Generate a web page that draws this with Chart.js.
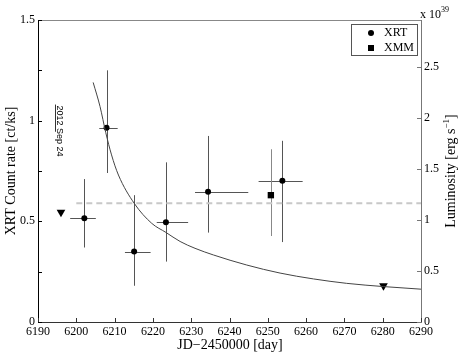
<!DOCTYPE html>
<html>
<head>
<meta charset="utf-8">
<script src="https://cdn.jsdelivr.net/npm/chart.js@4"></script>
<style>
  html, body { margin: 0; padding: 0; background: #fff; }
</style>
</head>
<body>
<canvas id="lc" width="463" height="354"></canvas>
<script>
(() => {
    // XRT points (day, rate, error ranges)
    const xrtDay = [6202.1, 6207.9, 6215.1, 6223.4, 6234.4, 6253.8];
    const xrtRate = [0.515, 0.965, 0.35, 0.495, 0.647, 0.702];
    const xrtDayLo = [6198.4, 6206.0, 6212.7, 6221.0, 6231.0, 6247.6];
    const xrtDayHi = [6205.1, 6210.8, 6219.4, 6229.2, 6244.9, 6259.1];
    const xrtRateLo = [0.37, 0.74, 0.18, 0.30, 0.444, 0.397];
    const xrtRateHi = [0.71, 1.25, 0.63, 0.793, 0.924, 0.90];

    // XMM point
    const xmmDay = [6250.8];
    const xmmRate = [0.63];
    const xmmRateLo = [0.427];
    const xmmRateHi = [0.858];

    // upper limits
    const limitDay = [6196.0, 6280.2];
    const limitRate = [0.545, 0.18];

    // decay curve
    const fitDay = [6204.4, 6206.2, 6207.7, 6209.2, 6211.0, 6215.1, 6219.7, 6223.4, 6227.1, 6231.0, 6235.8, 6244.5, 6253.2, 6261.9, 6270.6, 6280.2, 6290.0];
    const fitRate = [1.19, 1.07, 0.94, 0.83, 0.73, 0.59, 0.49, 0.445, 0.40, 0.366, 0.333, 0.283, 0.243, 0.214, 0.192, 0.176, 0.163];

    // mean level (dashed)
    const meanDay = [6200, 6290];
    const meanRate = [0.59, 0.59];

    // date marker
    const markDay = 6194.5;
    const markRate = [0.945, 1.08];
    const markText = '2012 Sep 24';

    // ticks
    const xTicks = [6190, 6200, 6210, 6220, 6230, 6240, 6250, 6260, 6270, 6280, 6290];
    const rateTicks = [0, 0.5, 1, 1.5];
    const rateMinor = [0.25, 0.75, 1.25];
    const lumTicks = [0, 0.5, 1, 1.5, 2, 2.5];
    const lumMax = 2.96;

    const serif = 'Liberation Serif';
    const pts = (xs, ys) => xs.map((v, i) => ({ x: v, y: ys[i] }));
    const crisp = v => Math.round(v) + 0.5;

    // error bars under the markers
    const errorBars = {
        id: 'errorBars',
        beforeDatasetsDraw(chart) {
            const { ctx, scales: { x, y } } = chart;
            ctx.save();
            ctx.lineWidth = 1;
            ctx.strokeStyle = '#555';
            xrtDay.forEach((d, i) => {
                const px = crisp(x.getPixelForValue(d));
                const py = crisp(y.getPixelForValue(xrtRate[i]));
                ctx.beginPath();
                ctx.moveTo(px, y.getPixelForValue(xrtRateLo[i]));
                ctx.lineTo(px, y.getPixelForValue(xrtRateHi[i]));
                ctx.moveTo(x.getPixelForValue(xrtDayLo[i]), py);
                ctx.lineTo(x.getPixelForValue(xrtDayHi[i]), py);
                ctx.stroke();
            });
            ctx.strokeStyle = '#888';
            xmmDay.forEach((d, i) => {
                const px = crisp(x.getPixelForValue(d));
                ctx.beginPath();
                ctx.moveTo(px, y.getPixelForValue(xmmRateLo[i]));
                ctx.lineTo(px, y.getPixelForValue(xmmRateHi[i]));
                ctx.stroke();
            });
            ctx.restore();
        }
    };

    // inward ticks, frame, legend and labels
    const decorations = {
        id: 'decorations',
        afterDraw(chart) {
            const { ctx, chartArea: a, scales: { x, y, y2 } } = chart;
            ctx.save();
            ctx.lineWidth = 1;

            // top frame line
            ctx.strokeStyle = '#888';
            ctx.beginPath();
            ctx.moveTo(a.left, crisp(a.top));
            ctx.lineTo(a.right, crisp(a.top));
            ctx.stroke();

            // ticks
            ctx.strokeStyle = '#333';
            ctx.beginPath();
            xTicks.forEach(v => {
                const px = crisp(x.getPixelForValue(v));
                ctx.moveTo(px, a.bottom);
                ctx.lineTo(px, a.bottom - 4);
            });
            ctx.stroke();
            ctx.strokeStyle = '#000';
            ctx.beginPath();
            rateTicks.concat(rateMinor).forEach(v => {
                const py = crisp(y.getPixelForValue(v));
                ctx.moveTo(a.left, py);
                ctx.lineTo(a.left + 4, py);
            });
            ctx.stroke();
            ctx.strokeStyle = '#777';
            ctx.beginPath();
            lumTicks.forEach(v => {
                const py = crisp(y2.getPixelForValue(v));
                ctx.moveTo(a.right, py);
                ctx.lineTo(a.right - 4, py);
            });
            ctx.stroke();

            // date marker
            const mx = crisp(x.getPixelForValue(markDay));
            ctx.strokeStyle = '#333';
            ctx.beginPath();
            ctx.moveTo(mx, y.getPixelForValue(markRate[1]));
            ctx.lineTo(mx, y.getPixelForValue(markRate[0]));
            ctx.stroke();
            ctx.save();
            ctx.translate(mx + 1, y.getPixelForValue(markRate[1]) + 1);
            ctx.rotate(Math.PI / 2);
            ctx.fillStyle = '#000';
            ctx.font = '9px "Liberation Sans"';
            ctx.textAlign = 'left';
            ctx.textBaseline = 'alphabetic';
            ctx.fillText(markText, 0, 0);
            ctx.restore();

            // legend
            const lx = 351, ly = 24, lw = 66, lh = 31;
            ctx.strokeStyle = '#555';
            ctx.strokeRect(lx + 0.5, ly + 0.5, lw, lh);
            ctx.fillStyle = '#000';
            ctx.beginPath();
            ctx.arc(371, 33, 3, 0, Math.PI * 2);
            ctx.fill();
            ctx.fillRect(368, 45, 6, 6);
            ctx.font = '12px "' + serif + '"';
            ctx.textAlign = 'left';
            ctx.textBaseline = 'middle';
            ctx.fillText('XRT', 384, 33);
            ctx.fillText('XMM', 384, 48);

            // axis titles
            ctx.font = '14px "' + serif + '"';
            ctx.textBaseline = 'alphabetic';
            ctx.textAlign = 'center';
            ctx.fillText('JD\u22122450000 [day]', 230, 349);

            ctx.save();
            ctx.translate(15, 171);
            ctx.rotate(-Math.PI / 2);
            ctx.fillText('XRT Count rate [ct/ks]', 0, 0);
            ctx.restore();

            // right title with superscript
            ctx.save();
            ctx.translate(455, 171);
            ctx.rotate(-Math.PI / 2);
            const main = 'Luminosity [erg s', sup = '\u22121', end = ']';
            ctx.font = '14px "' + serif + '"';
            const w1 = ctx.measureText(main).width;
            const w3 = ctx.measureText(end).width;
            ctx.font = '9px "' + serif + '"';
            const w2 = ctx.measureText(sup).width;
            let sx = -(w1 + w2 + w3) / 2;
            ctx.textAlign = 'left';
            ctx.font = '14px "' + serif + '"';
            ctx.fillText(main, sx, 0);
            ctx.font = '9px "' + serif + '"';
            ctx.fillText(sup, sx + w1, -6);
            ctx.font = '14px "' + serif + '"';
            ctx.fillText(end, sx + w1 + w2, 0);
            ctx.restore();

            // exponent
            ctx.textAlign = 'left';
            ctx.font = '12px "' + serif + '"';
            ctx.fillText('x 10', 420, 18);
            ctx.font = '8px "' + serif + '"';
            ctx.fillText('39', 441, 12);

            ctx.restore();
        }
    };

    const tickFont = { family: serif, size: 12 };

    new Chart(document.getElementById('lc'), {
        type: 'scatter',
        data: {
            datasets: [
                {
                    label: 'mean',
                    data: pts(meanDay, meanRate),
                    showLine: true,
                    borderColor: '#c8c8c8',
                    borderWidth: 2,
                    borderDash: [6, 4],
                    pointRadius: 0
                },
                {
                    label: 'fit',
                    data: pts(fitDay, fitRate),
                    showLine: true,
                    borderColor: '#444',
                    borderWidth: 1,
                    pointRadius: 0,
                    cubicInterpolationMode: 'monotone'
                },
                {
                    label: 'XRT',
                    data: pts(xrtDay, xrtRate),
                    pointStyle: 'circle',
                    pointRadius: 3,
                    backgroundColor: '#000',
                    borderColor: '#000',
                    borderWidth: 0
                },
                {
                    label: 'XMM',
                    data: pts(xmmDay, xmmRate),
                    pointStyle: 'rect',
                    pointRadius: 4.5,
                    backgroundColor: '#000',
                    borderColor: '#000',
                    borderWidth: 0
                },
                {
                    label: 'limit',
                    data: pts(limitDay, limitRate),
                    pointStyle: 'triangle',
                    rotation: 180,
                    pointRadius: 5,
                    backgroundColor: '#000',
                    borderColor: '#000',
                    borderWidth: 0
                }
            ]
        },
        options: {
            responsive: false,
            animation: false,
            layout: { padding: { top: 20, left: 0, right: 0, bottom: 0 } },
            plugins: {
                legend: { display: false },
                tooltip: { enabled: false }
            },
            scales: {
                x: {
                    type: 'linear',
                    min: 6190,
                    max: 6290,
                    afterBuildTicks: s => { s.ticks = xTicks.map(v => ({ value: v })); },
                    afterFit: s => { s.height = 32; },
                    grid: { display: false, drawTicks: false },
                    border: { color: '#333' },
                    ticks: { padding: 3, font: tickFont, color: '#000', maxRotation: 0, autoSkip: false, callback: v => String(v) }
                },
                y: {
                    position: 'left',
                    min: 0,
                    max: 1.5,
                    afterBuildTicks: s => { s.ticks = rateTicks.map(v => ({ value: v })); },
                    afterFit: s => { s.width = 38; },
                    grid: { display: false, drawTicks: false },
                    border: { color: '#000' },
                    ticks: { padding: 3, font: tickFont, color: '#000', callback: v => String(v) }
                },
                y2: {
                    position: 'right',
                    min: 0,
                    max: lumMax,
                    afterBuildTicks: s => { s.ticks = lumTicks.map(v => ({ value: v })); },
                    afterFit: s => { s.width = 42; },
                    grid: { display: false, drawTicks: false },
                    border: { color: '#777' },
                    ticks: { padding: 3, font: tickFont, color: '#000', callback: v => String(v) }
                }
            }
        },
        plugins: [errorBars, decorations]
    });
})();
</script>
</body>
</html>
